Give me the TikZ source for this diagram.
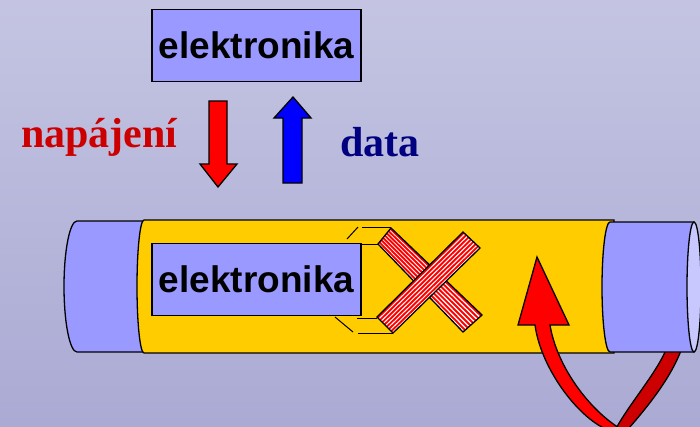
\documentclass[tikz,border=0pt]{standalone}
\usepackage{fontspec}
\newfontfamily\boxfont{Liberation Sans}
\newfontfamily\labelfont{Liberation Serif}
\usetikzlibrary{calc}

\definecolor{bgpale}{RGB}{196,196,226}
\definecolor{bgdeep}{RGB}{170,170,212}
\definecolor{tubeblue}{RGB}{153,153,255}
\definecolor{capblue}{RGB}{200,200,255}
\definecolor{tubeyellow}{RGB}{255,204,0}
\definecolor{powerred}{RGB}{204,0,0}
\definecolor{datanavy}{RGB}{0,0,128}
\definecolor{loopred}{RGB}{204,0,0}

\tikzset{
  outline/.style={draw=black, line width=1.3pt, line join=miter},
  hairline/.style={draw=black, line width=1pt},
  elbox/.style={outline, fill=tubeblue, minimum width=209pt, minimum height=72pt,
    inner sep=0pt, font=\boxfont\bfseries\fontsize{37}{40}\selectfont},
  bigword/.style={inner sep=0pt, font=\labelfont\bfseries\fontsize{42}{45}\selectfont},
  stripe/.style={red, line width=1.9pt}
}

\begin{document}
\begin{tikzpicture}[x=1pt, y=1pt, yscale=-1]
% y grows downwards in this picture
\useasboundingbox (0,0) rectangle (700,426);
\clip (0,0) rectangle (700,426);
\shade[top color=bgpale, bottom color=bgdeep] (0,0) rectangle (700,426);

%% Upper unit with supply and data arrows %%%%%%%%%%%%%%%%%%%%%%
\node[elbox] (topbox) at (256.5,45.5) {elektronika};

\draw[outline, fill=red] (209,101) -- (227,101) -- (227,164) -- (237,164)
  -- (218,187) -- (200,164) -- (209,164) -- cycle;
\draw[outline, fill=blue] (283,183) -- (302,183) -- (302,118) -- (311,118)
  -- (293,97) -- (274,118) -- (283,118) -- cycle;

\node[bigword, text=powerred, anchor=base west] (power) at (21,147) {napájení};
\node[bigword, text=datanavy, anchor=base west] (data) at (340,156) {data};

%% Back half of the loop, runs behind the tube
\draw[outline, fill=loopred] (668,345) .. controls (658,372) and (630,402) .. (614,432)
  -- (622,436) .. controls (645,410) and (672,378) .. (683,345) -- cycle;

%% Tube %%%%%%%%%%%%%%%%%%%%%%%%%%%%%%%%%%%%%%%%%%%%%%%%%%%%%%%%
\draw[outline, fill=tubeblue] (77,221) -- (150,221) -- (150,352) -- (77,352)
  arc[start angle=90, end angle=270, x radius=13, y radius=65.5] -- cycle;
\draw[outline, fill=tubeyellow] (144,220) -- (614,220) -- (614,353) -- (144,353)
  arc[start angle=90, end angle=270, x radius=7, y radius=66.5] -- cycle;
\draw[outline, fill=tubeblue] (610,222) -- (694,222) -- (694,352) -- (610,352)
  arc[start angle=90, end angle=270, x radius=8, y radius=65] -- cycle;
\draw[outline, fill=capblue] (694,287) ellipse[x radius=7, y radius=65];

%% Inner unit and its edges towards the cross
\node[elbox] (innerbox) at (256.5,279.5) {elektronika};

\draw[hairline] (361,244) -- (378,244);
\draw[hairline] (347,239) -- (358,227);
\draw[hairline] (362,227) -- (391,227);
\draw[hairline] (335,317) -- (353,332);
\draw[hairline] (358,333) -- (393,333);
\draw[hairline] (357,318) -- (377,318);

%% Striped cross %%%%%%%%%%%%%%%%%%%%%%%%%%%%%%%%%%%%%%%%%%%%%%%
\coordinate (barA1) at (391,228);
\coordinate (barB1) at (378,244);
\coordinate (barC1) at (463,332);
\coordinate (barD1) at (482,315);
\fill[white] (barA1) -- (barB1) -- (barC1) -- (barD1) -- cycle;
\foreach \t in {0.05,0.19,0.33,0.47,0.61,0.75,0.89}
  \draw[stripe] ($(barA1)!\t!(barB1)$) -- ($(barD1)!\t!(barC1)$);
\draw[outline] (barA1) -- (barB1) -- (barC1) -- (barD1) -- cycle;

\coordinate (barA2) at (377,317);
\coordinate (barB2) at (393,333);
\coordinate (barC2) at (480,248);
\coordinate (barD2) at (463,232);
\fill[white] (barA2) -- (barB2) -- (barC2) -- (barD2) -- cycle;
\foreach \t in {0.05,0.19,0.33,0.47,0.61,0.75,0.89}
  \draw[stripe] ($(barA2)!\t!(barB2)$) -- ($(barD2)!\t!(barC2)$);
\draw[outline] (barA2) -- (barB2) -- (barC2) -- (barD2) -- cycle;

%% Front half of the loop with its head
\draw[outline, fill=red] (537,257) -- (569,325) -- (550,325)
  .. controls (557,368) and (592,414) .. (626,432) -- (614,432)
  .. controls (582,424) and (541,370) .. (535,325) -- (518,325) -- cycle;

\end{tikzpicture}
\end{document}
